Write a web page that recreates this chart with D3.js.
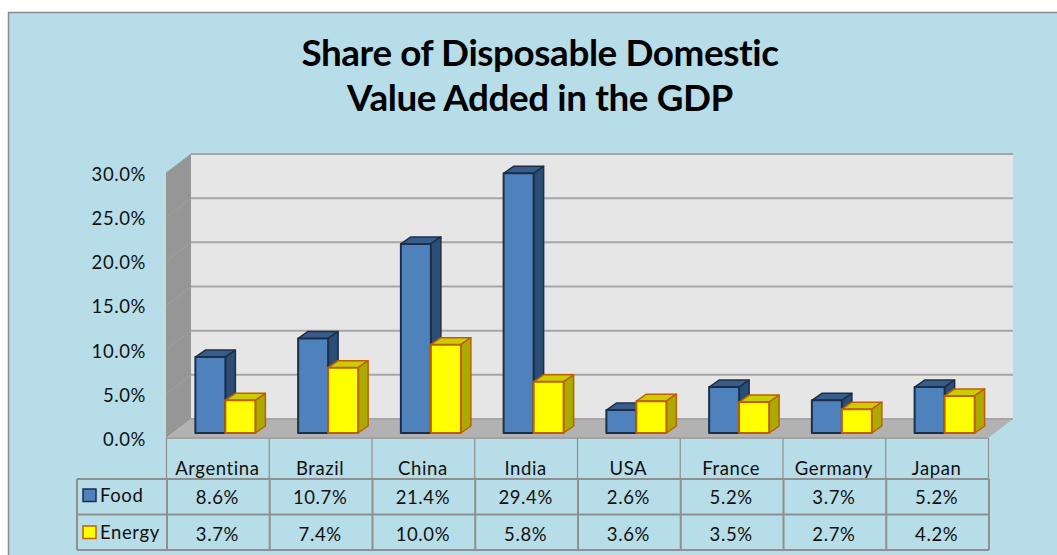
<!DOCTYPE html>
<html><head><meta charset="utf-8">
<script src="https://cdn.jsdelivr.net/npm/d3@7"></script>
<style>html,body{margin:0;padding:0;background:#fff}svg{display:block}text{font-family:Lato,sans-serif;fill:#111;letter-spacing:.6px}</style>
</head><body><svg id="c" width="1057" height="555"></svg>
<script>
const categories=["Argentina","Brazil","China","India","USA","France","Germany","Japan"];
const food=[8.6,10.7,21.4,29.4,2.6,5.2,3.7,5.2];
const energy=[3.7,7.4,10.0,5.8,3.6,3.5,2.7,4.2];
const seriesNames=["Food","Energy"];
const titleLines=["Share of Disposable Domestic","Value Added in the GDP"];
const yTicks=[0,5,10,15,20,25,30];

const svg=d3.select("#c");
const x=d3.scaleBand().domain(categories).range([166,988]);
const y=d3.scaleLinear().domain([0,30]).range([438,173]);
const dx=25,dy=19,barW=30,bdx=10,bdy=7,lift=5,shift=8,fs="18.5px";

svg.append("rect").attr("x",8.5).attr("y",12.5).attr("width",1060).attr("height",560)
  .attr("fill","#b7dde8").attr("stroke","#8c8c8c").attr("stroke-width",1.5);

svg.selectAll("text.title").data(titleLines).join("text").attr("class","title")
  .attr("x",540).attr("y",(d,i)=>[66,111][i]).attr("text-anchor","middle")
  .style("font-size","36.8px").style("font-weight","700").style("letter-spacing","-0.4px").style("fill","#000").text(d=>d);

const poly=(pts,fill,stroke,sw)=>svg.append("polygon").attr("points",pts.map(p=>p.join(",")).join(" "))
  .attr("fill",fill).attr("stroke",stroke||"none").attr("stroke-width",sw||0).attr("stroke-linejoin","round");

const x0=x.range()[0],x1=x.range()[1],y0=y(0),yT=y(30);
poly([[x0+dx,yT-dy],[x1+dx,yT-dy],[x1+dx,y0-dy],[x0+dx,y0-dy]],"#e6e6e6");
poly([[x0,yT],[x0+dx,yT-dy],[x0+dx,y0-dy],[x0,y0]],"#969696");
poly([[x0,y0],[x0+dx,y0-dy],[x1+dx,y0-dy],[x1,y0]],"#b2b2b2");

const grid=svg.append("g");
yTicks.forEach(t=>{
  grid.append("line").attr("x1",x0+dx).attr("x2",x1+dx).attr("y1",y(t)-dy).attr("y2",y(t)-dy)
    .attr("stroke","#a6a6a6").attr("stroke-width",2);
  if(t>0) grid.append("line").attr("x1",x0).attr("x2",x0+dx).attr("y1",y(t)).attr("y2",y(t)-dy)
    .attr("stroke","#a0a0a0").attr("stroke-width",1);
});

const ax=svg.append("g").attr("transform","translate(146,1.5)")
  .call(d3.axisLeft(y).tickValues(yTicks).tickSize(0).tickPadding(0).tickFormat(d=>d3.format(".1f")(d)+"%"));
ax.select(".domain").remove();
ax.selectAll("text").style("font-size",fs).style("font-family","Lato,sans-serif").style("fill","#111");

const styles=[
 {front:"#4f81bd",top:"#385d8a",side:"#2c4d75",stroke:"#1c2f48"},
 {front:"#ffff00",top:"#cccc00",side:"#aaaa00",stroke:"#bf6000"}];
function bar(cat,v,s){
  const st=styles[s];
  const l=x(cat)+x.bandwidth()/2+shift-barW+s*barW, r=l+barW, b=y(0)-lift, t=y(v)-lift;
  poly([[l,t],[l+bdx,t-bdy],[r+bdx,t-bdy],[r,t]],st.top,st.stroke,1.5);
  poly([[r,t],[r+bdx,t-bdy],[r+bdx,b-bdy],[r,b]],st.side,st.stroke,1.5);
  poly([[l,t],[r,t],[r,b],[l,b]],st.front,st.stroke,2);
}
categories.forEach((c,i)=>{bar(c,food[i],0);bar(c,energy[i],1);});

const rowsY=[479,514.5,550];
const tl=svg.append("g").attr("stroke","#8f8f8f").attr("stroke-width",2).attr("fill","none");
tl.append("line").attr("x1",x0).attr("x2",x1).attr("y1",y0).attr("y2",y0).attr("stroke","#a3a3a3");
rowsY.forEach(r=>tl.append("line").attr("x1",77).attr("x2",x1+1).attr("y1",r).attr("y2",r));
tl.append("line").attr("x1",77).attr("x2",77).attr("y1",rowsY[0]).attr("y2",rowsY[2]);
[...categories.map(c=>x(c)),x1].forEach(v=>{
  tl.append("line").attr("x1",v+.5).attr("x2",v+.5).attr("y1",y0).attr("y2",rowsY[0]).attr("stroke-width",1.2);
  tl.append("line").attr("x1",v+1).attr("x2",v+1).attr("y1",rowsY[0]).attr("y2",rowsY[2]);
});
const cx=c=>x(c)+x.bandwidth()/2;
svg.selectAll("text.cat").data(categories).join("text").attr("class","cat")
  .attr("x",cx).attr("y",475).attr("text-anchor","middle").style("font-size",fs).text(d=>d);
[food,energy].forEach((vals,s)=>{
  svg.selectAll("text.v"+s).data(vals).join("text").attr("class","v"+s)
    .attr("x",(d,i)=>cx(categories[i])).attr("y",[504,541][s]).attr("text-anchor","middle")
    .style("font-size",fs).text(d=>d3.format(".1f")(d)+"%");
  svg.append("rect").attr("x",83).attr("y",[489,526][s]).attr("width",13).attr("height",12.5)
    .attr("fill",styles[s].front).attr("stroke",styles[s].stroke).attr("stroke-width",1.5);
  svg.append("text").attr("x",100).attr("y",[502,539][s]).style("font-size",fs).text(seriesNames[s]);
});
</script></body></html>
